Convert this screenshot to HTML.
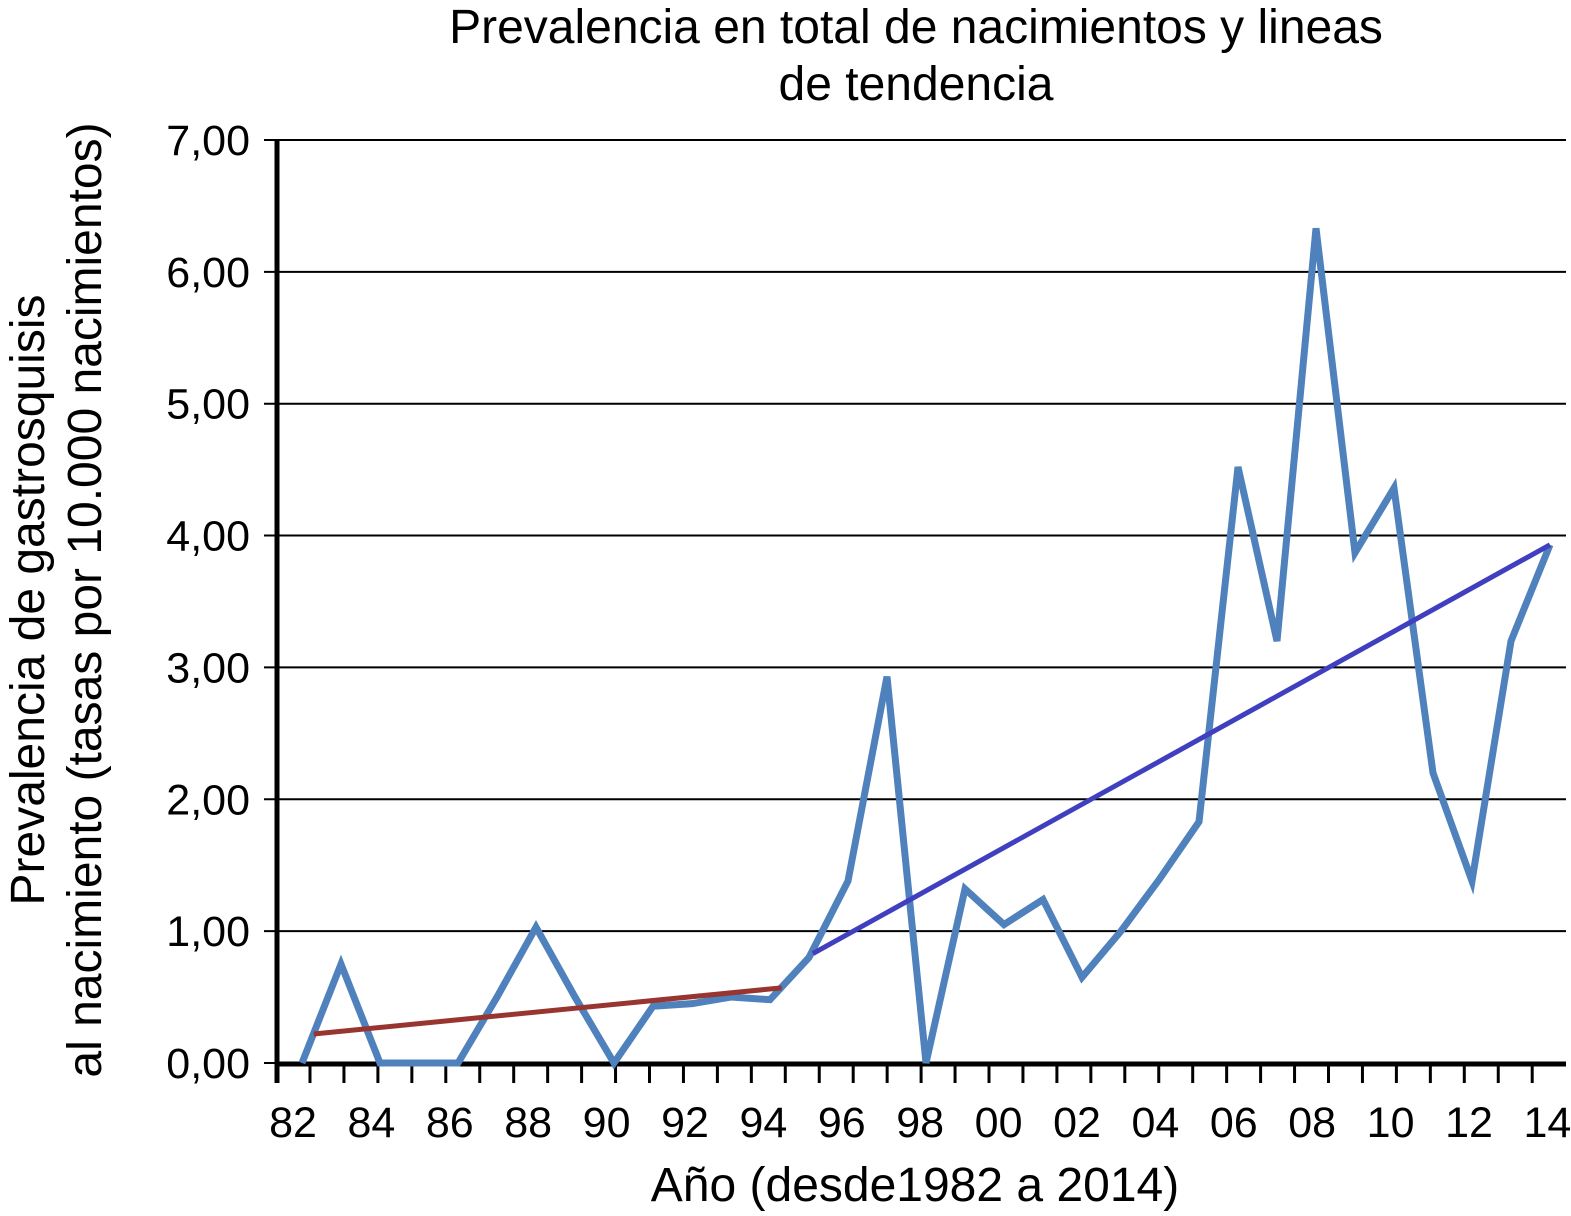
<!DOCTYPE html>
<html><head><meta charset="utf-8">
<style>
html,body{margin:0;padding:0;background:#fff;}
svg{display:block;font-family:"Liberation Sans",Arial,sans-serif;}
</style></head>
<body>
<svg id="chart" width="1571" height="1216" viewBox="0 0 1571 1216" xmlns="http://www.w3.org/2000/svg">
<text x="916" y="43" font-size="48" text-anchor="middle">Prevalencia en total de nacimientos y lineas</text>
<text x="916" y="100" font-size="48" text-anchor="middle">de tendencia</text>
<text x="915" y="1201" font-size="48" text-anchor="middle">Año (desde1982 a 2014)</text>
<g transform="translate(0,600) rotate(-90)">
<text x="0" y="44" font-size="48" text-anchor="middle">Prevalencia de gastrosquisis</text>
<text x="0" y="101" font-size="48" text-anchor="middle">al nacimiento (tasas por 10.000 nacimientos)</text>
</g>
<g id="grid"></g>
<g id="yticks"></g>
<g id="xticks"></g>
<g id="series"></g>
</svg>
<script>
const years = [1982,1983,1984,1985,1986,1987,1988,1989,1990,1991,1992,1993,1994,1995,1996,1997,1998,1999,2000,2001,2002,2003,2004,2005,2006,2007,2008,2009,2010,2011,2012,2013,2014];
const prevalence = [0,0.75,0,0,0,0.5,1.03,0.5,0,0.43,0.45,0.5,0.48,0.8,1.38,2.93,0,1.32,1.05,1.24,0.65,1.0,1.4,1.83,4.52,3.2,6.33,3.87,4.36,2.2,1.38,3.2,3.93];
const trend1Years = [1982.3,1994.3];
const trend1Values = [0.22,0.57];
const trend2Years = [1995.1,2014];
const trend2Values = [0.83,3.93];
const yTickValues = [0,1,2,3,4,5,6,7];
const yTickLabels = ["0,00","1,00","2,00","3,00","4,00","5,00","6,00","7,00"];
const xTickLabels = ["82","84","86","88","90","92","94","96","98","00","02","04","06","08","10","12","14"];

const NS="http://www.w3.org/2000/svg";
const yS = v => 1063 - v*131.86;
const xS = yr => 302 + 39*(yr-1982);
function mk(tag, attrs, parent){const e=document.createElementNS(NS,tag);for(const k in attrs)e.setAttribute(k,attrs[k]);parent.appendChild(e);return e;}
const grid=document.getElementById('grid'), yt=document.getElementById('yticks'), xt=document.getElementById('xticks'), se=document.getElementById('series');

yTickValues.forEach((v,i)=>{
  const l=mk('line',{x1:264,x2:1566,y1:yS(v),y2:yS(v),stroke:'#000','stroke-width':2},grid);
  
  
  const t=mk('text',{x:250,y:yS(v)+15,'font-size':43,'text-anchor':'end'},yt);
  t.textContent=yTickLabels[i];
  
  
});
const ya=mk('line',{x1:277,x2:277,y1:140,y2:1083,stroke:'#000','stroke-width':5},grid);


const xa=mk('line',{x1:275,x2:1566,y1:1064,y2:1064,stroke:'#000','stroke-width':5},grid);


for(let x=310;x<=1566;x+=33.95){
  const tk=mk('line',{x1:x,x2:x,y1:1064,y2:1083,stroke:'#000','stroke-width':3},grid);
  
  
}
xTickLabels.forEach((s,i)=>{
  const t=mk('text',{x:293+39.2*2*i,y:1137,'font-size':43,'text-anchor':'middle'},xt);
  t.textContent=s;
  
  
});
const pts=years.map((y,i)=>xS(y)+','+yS(prevalence[i])).join(' ');
const pl=mk('polyline',{points:pts,fill:'none',stroke:'#4f81bd','stroke-width':7,'stroke-linejoin':'miter'},se);


const t1=mk('line',{x1:xS(trend1Years[0]),y1:yS(trend1Values[0]),x2:xS(trend1Years[1]),y2:yS(trend1Values[1]),stroke:'#983530','stroke-width':5},se);


const t2=mk('line',{x1:xS(trend2Years[0]),y1:yS(trend2Values[0]),x2:xS(trend2Years[1]),y2:yS(trend2Values[1]),stroke:'#3f3fbf','stroke-width':5},se);


</script>
</body></html>
